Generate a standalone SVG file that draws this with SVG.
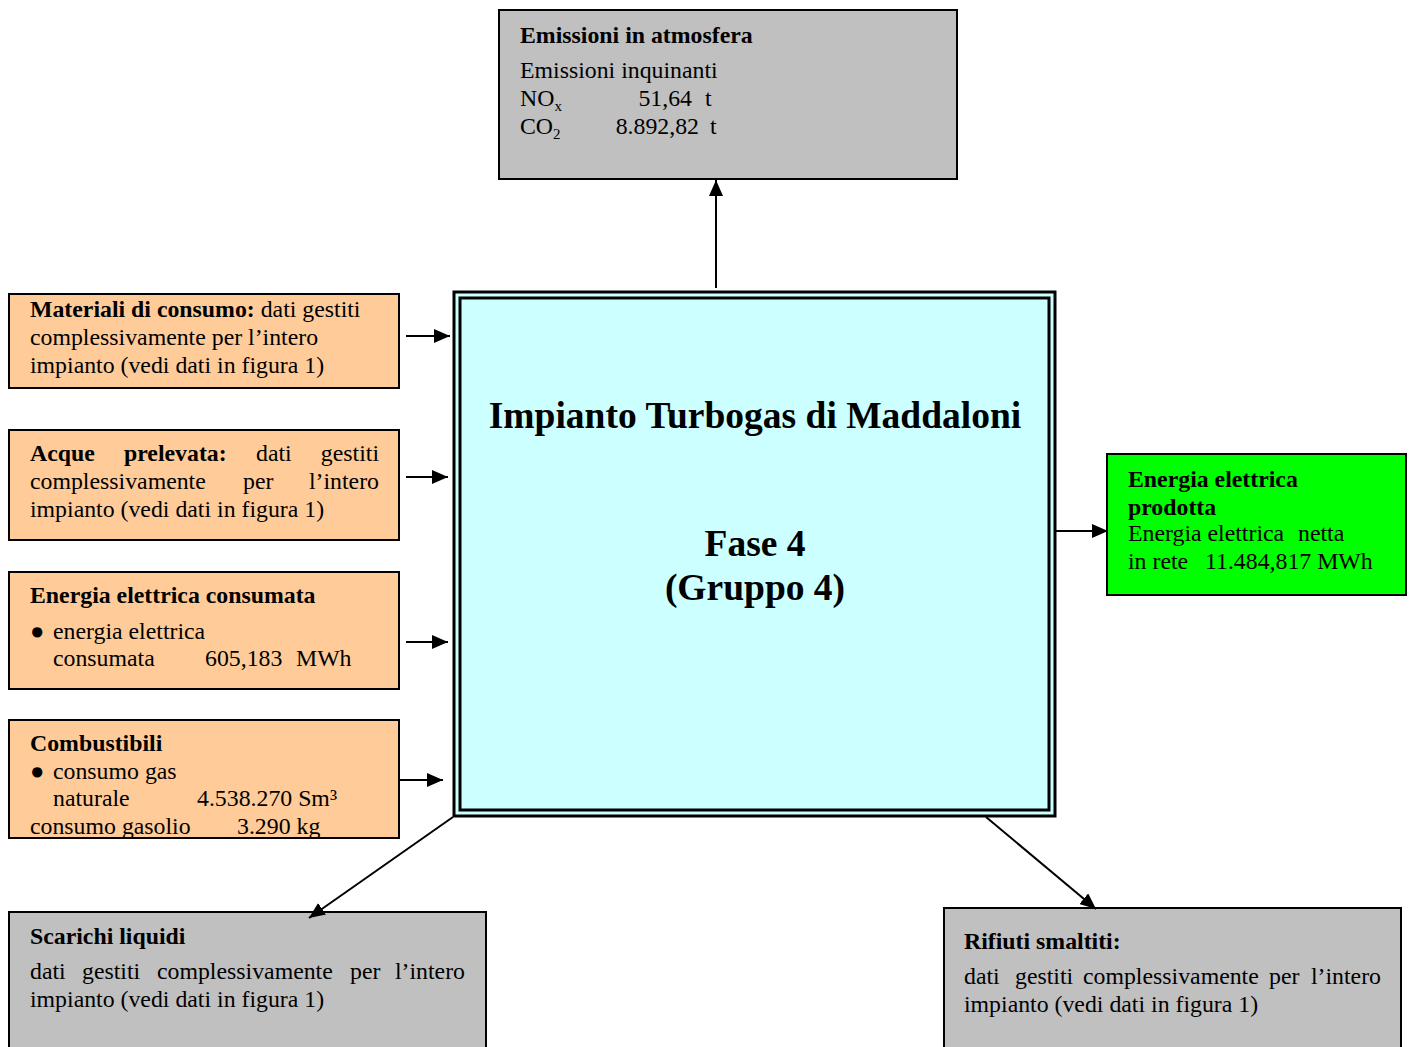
<svg xmlns="http://www.w3.org/2000/svg" width="1412" height="1047" viewBox="0 0 1412 1047">
<defs>
<marker id="ahb" markerWidth="16" markerHeight="14" refX="16" refY="7" orient="auto" markerUnits="userSpaceOnUse" viewBox="0 0 16 14"><path d="M0,0 L16,7 L0,14 z" fill="#000"/></marker>
</defs>
<style>
text{font-family:"Liberation Serif","Times New Roman",serif;font-size:23.8px;fill:#000}
.b{font-weight:bold}
.box{stroke:#000;stroke-width:2}
.gray{fill:#C0C0C0}
.org{fill:#FFCC99}
.conn{stroke:#000;stroke-width:2;fill:none}
.title{font-size:37.5px;font-weight:bold}
</style>
<rect width="1412" height="1047" fill="#fff"/>
<g id="emissioni">
<rect class="box gray" x="499" y="10" width="458" height="169"/>
<text class="b" x="520" y="43">Emissioni in atmosfera</text>
<text x="520" y="78">Emissioni inquinanti</text>
<text x="520" y="106">NO<tspan font-size="15" dy="5">x</tspan></text>
<text x="692" y="106" text-anchor="end">51,64</text><text x="705" y="106">t</text>
<text x="520" y="134">CO<tspan font-size="15" dy="5">2</tspan></text>
<text x="699" y="134" text-anchor="end">8.892,82</text><text x="710" y="134">t</text>
</g>
<g id="impianto">
<rect x="454" y="292" width="601" height="524" fill="#CCFFFF" stroke="#000" stroke-width="3"/>
<rect x="460" y="298" width="589" height="512" fill="none" stroke="#000" stroke-width="3"/>
<text class="title" x="755" y="428" text-anchor="middle">Impianto Turbogas di Maddaloni</text>
<text class="title" x="755" y="556" text-anchor="middle">Fase 4</text>
<text class="title" x="755" y="600" text-anchor="middle">(Gruppo 4)</text>
</g>
<g id="materiali">
<rect class="box org" x="9" y="294" width="390" height="94"/>
<text x="30" y="317"><tspan class="b">Materiali di consumo:</tspan> dati gestiti</text>
<text x="30" y="345">complessivamente per l’intero</text>
<text x="30" y="373">impianto (vedi dati in figura 1)</text>
</g>
<g id="acque">
<rect class="box org" x="9" y="430" width="390" height="110"/>
<text class="b" x="30" y="461">Acque</text><text class="b" x="124" y="461">prelevata:</text>
<text x="256" y="461">dati</text><text x="379" y="461" text-anchor="end">gestiti</text>
<text x="30" y="489">complessivamente</text><text x="243" y="489">per</text><text x="379" y="489" text-anchor="end">l’intero</text>
<text x="30" y="517">impianto (vedi dati in figura 1)</text>
</g>
<g id="energia-consumata">
<rect class="box org" x="9" y="572" width="390" height="117"/>
<text class="b" x="30" y="603">Energia elettrica consumata</text>
<text x="30" y="639">●</text><text x="53" y="639">energia elettrica</text>
<text x="53" y="666">consumata</text><text x="205" y="666">605,183</text><text x="296" y="666">MWh</text>
</g>
<g id="combustibili">
<rect class="org" x="9" y="720" width="390" height="118"/>
<text class="b" x="30" y="751">Combustibili</text>
<text x="30" y="779">●</text><text x="53" y="779">consumo gas</text>
<text x="53" y="806">naturale</text><text x="197" y="806">4.538.270 Sm³</text>
<text x="30" y="834">consumo gasolio</text><text x="237" y="834">3.290 kg</text>
<rect class="box" fill="none" x="9" y="720" width="390" height="118"/>
</g>
<g id="energia-prodotta">
<rect class="box" fill="#00FF00" x="1107" y="454" width="299" height="141"/>
<text class="b" x="1128" y="487">Energia elettrica</text>
<text class="b" x="1128" y="515">prodotta</text>
<text x="1128" y="541">Energia elettrica</text><text x="1298" y="541">netta</text>
<text x="1128" y="569">in rete</text><text x="1205" y="569">11.484,817 MWh</text>
</g>
<g id="scarichi">
<rect class="box gray" x="9" y="912" width="477" height="140"/>
<text class="b" x="30" y="944">Scarichi liquidi</text>
<text x="30" y="979">dati</text><text x="82" y="979">gestiti</text><text x="157" y="979">complessivamente</text><text x="350" y="979">per</text><text x="465" y="979" text-anchor="end">l’intero</text>
<text x="30" y="1007">impianto (vedi dati in figura 1)</text>
</g>
<g id="rifiuti">
<rect class="box gray" x="944" y="908" width="457" height="144"/>
<text class="b" x="964" y="949">Rifiuti smaltiti:</text>
<text x="964" y="984">dati</text><text x="1015" y="984">gestiti</text><text x="1083" y="984">complessivamente</text><text x="1269" y="984">per</text><text x="1381" y="984" text-anchor="end">l’intero</text>
<text x="964" y="1012">impianto (vedi dati in figura 1)</text>
</g>
<g id="connectors">
<line class="conn" x1="716" y1="288" x2="716" y2="180" marker-end="url(#ahb)"/>
<line class="conn" x1="406" y1="336" x2="450" y2="336" marker-end="url(#ahb)"/>
<line class="conn" x1="406" y1="477" x2="448" y2="477" marker-end="url(#ahb)"/>
<line class="conn" x1="406" y1="642" x2="448" y2="642" marker-end="url(#ahb)"/>
<line class="conn" x1="400" y1="780" x2="443" y2="780" marker-end="url(#ahb)"/>
<line class="conn" x1="1056" y1="531" x2="1108" y2="531" marker-end="url(#ahb)"/>
<line class="conn" x1="453" y1="817" x2="309" y2="918" marker-end="url(#ahb)"/>
<line class="conn" x1="986" y1="817" x2="1096" y2="909" marker-end="url(#ahb)"/>
</g>
</svg>
